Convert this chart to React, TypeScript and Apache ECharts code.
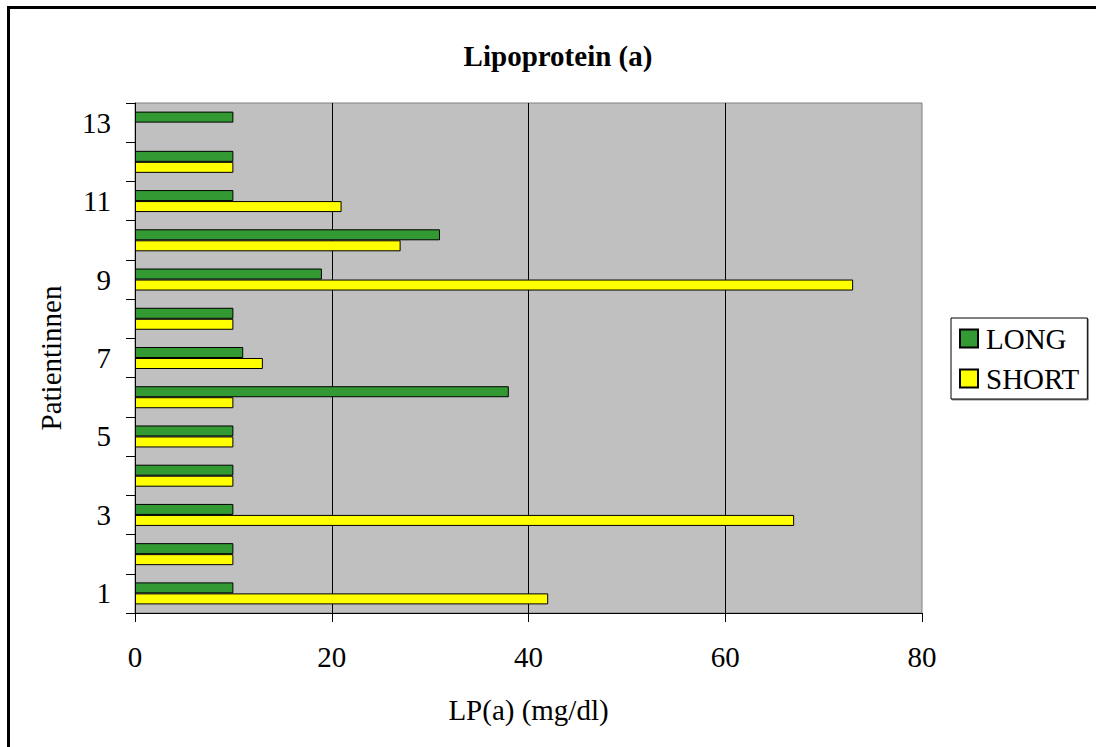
import React, { useEffect, useRef } from "react";
import * as echarts from "echarts";

// Patient numbers (bottom to top) and Lp(a) values in mg/dl
const patients = ["1", "2", "3", "4", "5", "6", "7", "8", "9", "10", "11", "12", "13"];
const longValues = [10, 10, 10, 10, 10, 38, 11, 10, 19, 31, 10, 10, 10];
const shortValues: (number | null)[] = [42, 10, 67, 10, 10, 10, 13, 10, 73, 27, 21, 10, null];
const xTicks = { min: 0, max: 80, interval: 20 };

const FONT = "'Liberation Serif', 'Times New Roman', serif";
const FS = 29;

export default function App() {
  const ref = useRef<HTMLDivElement>(null);

  useEffect(() => {
    if (!ref.current) return;
    document.body.style.margin = "0";
    document.body.style.overflow = "hidden";
    const chart = echarts.init(ref.current, null, { renderer: "svg" });
    chart.setOption({
      animation: false,
      backgroundColor: "#ffffff",
      textStyle: { fontFamily: FONT },
      title: {
        text: "Lipoprotein (a)",
        left: 553,
        top: 36,
        textAlign: "center",
        textStyle: { fontFamily: FONT, fontSize: FS, fontWeight: "bold", color: "#000" },
      },
      legend: {
        orient: "vertical",
        left: 951,
        top: 318,
        padding: [6, 8, 6, 8],
        icon: "rect",
        itemWidth: 18,
        itemHeight: 18,
        itemGap: 11,
        borderColor: "#000",
        borderWidth: 1,
        backgroundColor: "#fff",
        shadowColor: "rgba(0,0,0,0.45)",
        shadowOffsetX: 1,
        shadowOffsetY: 1,
        shadowBlur: 0,
        data: ["LONG", "SHORT"],
        textStyle: { fontFamily: FONT, fontSize: FS, color: "#000", padding: [0, 0, 0, 3] },
      },
      grid: {
        left: 135,
        right: 174,
        top: 103,
        bottom: 134,
        show: true,
        backgroundColor: "#C0C0C0",
        borderColor: "#808080",
        borderWidth: 1,
      },
      xAxis: {
        type: "value",
        min: xTicks.min,
        max: xTicks.max,
        interval: xTicks.interval,
        name: "LP(a) (mg/dl)",
        nameLocation: "middle",
        nameGap: 82,
        nameTextStyle: { fontFamily: FONT, fontSize: FS, color: "#000" },
        axisLine: { show: true, lineStyle: { color: "#000", width: 1 } },
        axisTick: { show: true, inside: false, length: 9, lineStyle: { color: "#000" } },
        axisLabel: { margin: 29, fontFamily: FONT, fontSize: FS, color: "#000" },
        splitLine: { show: true, showMinLine: false, showMaxLine: false, lineStyle: { color: "#000", width: 1 } },
      },
      yAxis: {
        type: "category",
        data: patients,
        name: "Patientinnen",
        nameLocation: "middle",
        nameGap: 70,
        nameTextStyle: { fontFamily: FONT, fontSize: FS, color: "#000" },
        axisLine: { show: true, lineStyle: { color: "#000", width: 1 } },
        axisTick: { show: true, inside: false, length: 9, interval: 0, alignWithLabel: false, lineStyle: { color: "#000" } },
        axisLabel: { interval: 1, margin: 24, fontFamily: FONT, fontSize: FS, color: "#000" },
        splitLine: { show: false },
      },
      series: [
        {
          name: "LONG",
          type: "bar",
          data: longValues,
          barWidth: 11,
          barGap: "0%",
          itemStyle: { color: "#339933", borderColor: "#000", borderWidth: 1 },
        },
        {
          name: "SHORT",
          type: "bar",
          data: shortValues,
          barWidth: 11,
          barGap: "0%",
          itemStyle: { color: "#FFFF00", borderColor: "#000", borderWidth: 1 },
        },
      ],
      graphic: [
        // outer frame: only the top and left edges fall inside the page
        {
          type: "line",
          silent: true,
          z: 100,
          shape: { x1: 7, y1: 7.5, x2: 1096, y2: 7.5 },
          style: { stroke: "#000", lineWidth: 3 },
        },
        {
          type: "line",
          silent: true,
          z: 100,
          shape: { x1: 8.5, y1: 6, x2: 8.5, y2: 747 },
          style: { stroke: "#000", lineWidth: 3 },
        },
      ],
    });
    return () => chart.dispose();
  }, []);

  return (
    <div
      ref={ref}
      style={{ position: "absolute", left: 0, top: 0, width: 1096, height: 747 }}
    />
  );
}
